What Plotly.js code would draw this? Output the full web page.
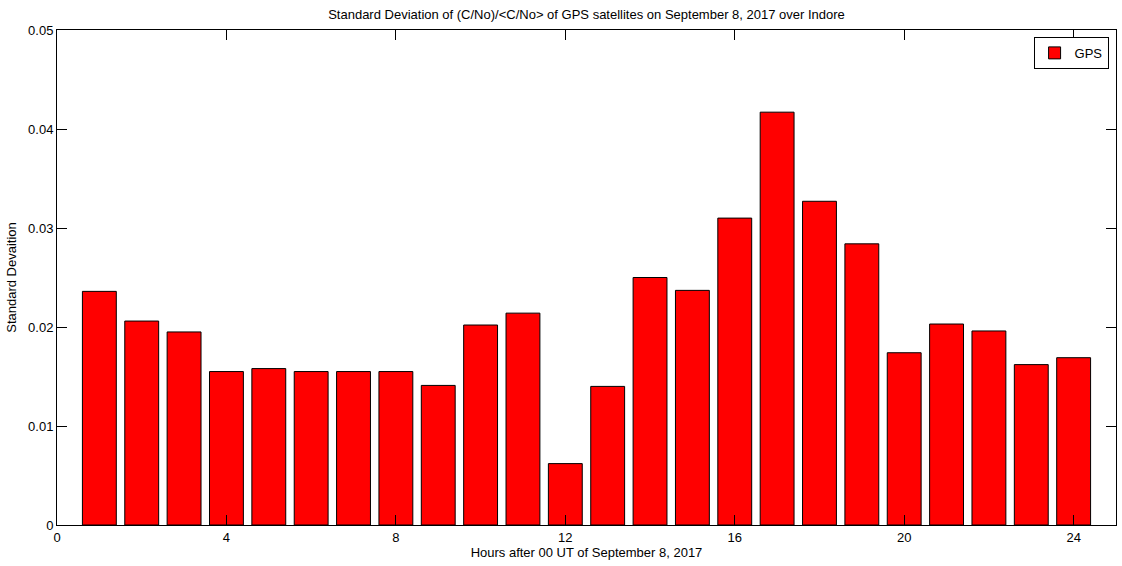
<!DOCTYPE html>
<html>
<head>
<meta charset="utf-8">
<script src="https://cdn.plot.ly/plotly-3.0.1.min.js"></script>
<style>
  html, body { margin: 0; padding: 0; background: #ffffff; }
  #chart { width: 1122px; height: 566px; }
</style>
</head>
<body>
<div id="chart"></div>
<script>
  // hours after 00 UT, one bar per hour
  var HOURS = [1, 2, 3, 4, 5, 6, 7, 8, 9, 10, 11, 12,
               13, 14, 15, 16, 17, 18, 19, 20, 21, 22, 23, 24];

  // standard deviation of (C/No)/<C/No>
  var GPS_STD = [0.0236, 0.0206, 0.0195, 0.0155, 0.0158, 0.0155,
                 0.0155, 0.0155, 0.0141, 0.0202, 0.0214, 0.0062,
                 0.0140, 0.0250, 0.0237, 0.0310, 0.0417, 0.0327,
                 0.0284, 0.0174, 0.0203, 0.0196, 0.0162, 0.0169];

  var X_TICKS = [0, 4, 8, 12, 16, 20, 24];
  var Y_TICKS = [0, 0.01, 0.02, 0.03, 0.04, 0.05];
  var Y_TICK_TEXT = ["0", "0.01", "0.02", "0.03", "0.04", "0.05"];

  var FONT = "Liberation Sans, Arial, Helvetica, sans-serif";

  var traces = [{
    type: "bar",
    name: "GPS",
    x: HOURS,
    y: GPS_STD,
    width: 0.8,
    marker: {
      color: "#ff0000",
      line: { color: "#000000", width: 1 }
    },
    hoverinfo: "x+y"
  }];

  var axisCommon = {
    showline: true,
    linecolor: "#000000",
    linewidth: 1,
    mirror: "ticks",
    ticks: "inside",
    ticklen: 10,
    tickwidth: 1,
    tickcolor: "#000000",
    showgrid: false,
    zeroline: false,
    tickfont: { family: FONT, size: 13, color: "#000000" },
    fixedrange: true
  };

  var layout = {
    width: 1122,
    height: 566,
    paper_bgcolor: "#ffffff",
    plot_bgcolor: "#ffffff",
    font: { family: FONT, size: 13, color: "#000000" },
    margin: { l: 57, r: 6, t: 30, b: 41, pad: 0 },
    title: {
      text: "Standard Deviation of (C/No)/<C/No> of GPS satellites on September 8, 2017 over Indore",
      font: { family: FONT, size: 13, color: "#000000" },
      xref: "paper",
      x: 0.5,
      xanchor: "center",
      yref: "container",
      y: 0.974,
      yanchor: "middle"
    },
    xaxis: Object.assign({}, axisCommon, {
      range: [0, 25],
      tickmode: "array",
      tickvals: X_TICKS,
      ticktext: X_TICKS.map(String),
      title: {
        text: "Hours after 00 UT of September 8, 2017",
        font: { family: FONT, size: 13, color: "#000000" },
        standoff: 1
      }
    }),
    yaxis: Object.assign({}, axisCommon, {
      range: [0, 0.05],
      tickmode: "array",
      tickvals: Y_TICKS,
      ticktext: Y_TICK_TEXT,
      title: {
        text: "Standard Devaition",
        font: { family: FONT, size: 13, color: "#000000" },
        standoff: 8
      }
    }),
    showlegend: true,
    legend: {
      x: 0.993,
      xanchor: "right",
      y: 0.986,
      yanchor: "top",
      bgcolor: "#ffffff",
      bordercolor: "#000000",
      borderwidth: 1,
      font: { family: FONT, size: 13, color: "#000000" },
      itemwidth: 30
    },
    bargap: 0.2
  };

  Plotly.newPlot("chart", traces, layout, {
    displayModeBar: false,
    responsive: false
  });
</script>
</body>
</html>
